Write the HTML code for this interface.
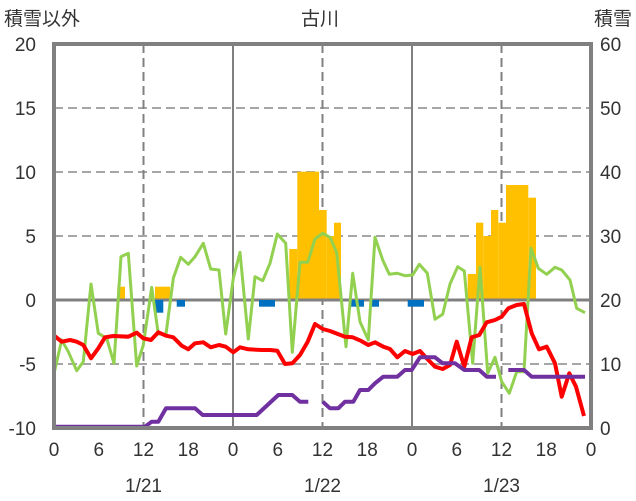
<!DOCTYPE html>
<html><head><meta charset="utf-8"><style>
html,body{margin:0;padding:0;background:#fff;}
svg{display:block;}
text{font-family:"Liberation Sans","Noto Sans CJK JP",sans-serif;fill:#333;}
</style></head><body>
<svg width="636" height="501" viewBox="0 0 636 501" xmlns="http://www.w3.org/2000/svg">
<rect width="636" height="501" fill="#fff"/>
<!-- grid -->
<g stroke="#a6a6a6" stroke-width="2" stroke-dasharray="9,5">
<line x1="54" y1="108" x2="591" y2="108"/>
<line x1="54" y1="172" x2="591" y2="172"/>
<line x1="54" y1="236" x2="591" y2="236"/>
<line x1="54" y1="364" x2="591" y2="364"/>
</g>
<g stroke="#808080" stroke-width="2" stroke-dasharray="9,5">
<line x1="143.5" y1="44" x2="143.5" y2="428"/>
<line x1="322.5" y1="44" x2="322.5" y2="428"/>
<line x1="501.5" y1="44" x2="501.5" y2="428"/>
</g>
<g stroke="#808080" stroke-width="2">
<line x1="233" y1="44" x2="233" y2="428"/>
<line x1="412" y1="44" x2="412" y2="428"/>
</g>
<!-- orange bars -->
<g fill="#ffc000">
<rect x="117.3" y="286.7" width="7.7" height="13.3"/>
<rect x="155" y="286.7" width="15" height="13.3"/>
<rect x="289.3" y="249" width="8" height="51"/>
<rect x="297.3" y="171.7" width="21.7" height="128.3"/>
<rect x="319" y="210" width="7.7" height="90"/>
<rect x="326.7" y="236" width="7.3" height="64"/>
<rect x="334" y="222.7" width="7" height="77.3"/>
<rect x="467.7" y="274" width="8.3" height="26"/>
<rect x="476" y="222.7" width="7.3" height="77.3"/>
<rect x="483.3" y="236" width="7.7" height="64"/>
<rect x="491" y="210" width="7.3" height="90"/>
<rect x="498.3" y="222.7" width="7.7" height="77.3"/>
<rect x="506" y="185" width="22.3" height="115"/>
<rect x="528.3" y="197.7" width="7.7" height="102.3"/>
</g>
<line x1="54" y1="300" x2="591" y2="300" stroke="#808080" stroke-width="3"/>
<!-- blue bars -->
<g fill="#0070c0">
<rect x="155" y="300" width="8.3" height="12.7"/>
<rect x="176.7" y="300" width="8.3" height="6.7"/>
<rect x="259" y="300" width="16" height="6.7"/>
<rect x="350" y="300" width="14" height="6.7"/>
<rect x="371.7" y="300" width="7.3" height="6.7"/>
<rect x="407.7" y="300" width="16.3" height="6.7"/>
</g>
<!-- green -->
<polyline fill="none" stroke="#92d050" stroke-width="3" stroke-linejoin="round" points="53.3,376.7 61.7,340 68.3,351.7 76.7,370.7 83.3,361.7 91,284 98.3,333.3 106.7,338.3 114,363.3 121,256.7 128.3,253.3 136.7,366 143.3,345 151.7,287.3 158.3,334 166,334 173.3,278.3 180.7,257.3 188.3,264.3 195,256.7 203.3,243.3 210.7,269 219,270 225.7,334 233.3,278.3 240,252.3 248.3,339 255,276.7 262.7,280.7 270,263.3 277.3,234 285.7,243.3 292.3,352.3 300,262.3 307.7,262.3 315,239 322.7,233.3 330,237.3 336.7,252.7 346,346.7 352.7,273.3 360,321.7 368.3,340 375,237.3 382.7,260 389.3,274.3 397.3,273.3 405,275.7 412.7,275 419.3,264.3 427.3,273.3 435,319.3 442.7,314.3 450,284 457.7,266.7 464.3,271 472.7,363.3 480,267.3 487.7,373.3 495,357.3 501.7,381.7 509.3,393.3 516.7,371.7 524,371.7 531,248.3 538.3,268.3 546.7,274.3 555,267.3 561.7,270 570,280 576.7,308.3 585,312.7"/>
<!-- red -->
<polyline fill="none" stroke="#ff0000" stroke-width="4" stroke-linejoin="round" points="53.3,335 61.7,341.7 70,340 76.7,341.7 83.3,345 91,358.3 98.3,348.3 105,337.3 113.3,336 128.3,336.7 136.7,332.7 143.3,338.3 151,340 158.3,332.3 166,335.7 173.3,337.3 181.7,345.7 188.3,349.3 195,343.3 203.3,342.3 210.7,347.3 219,345 225.7,346.7 233.3,352.3 240,347.3 248.3,349.3 261.7,350 270,350 277.3,350.7 285,364 292.3,363.3 300,355 307.7,341.7 315,324 322.7,329 330,331 345,336.7 352.7,337.3 360.7,340.7 368.3,345 375,342.3 383.3,346.7 390,349 397.3,357.3 405,351 412.7,354 420,351 427.3,359 435,366.7 442.7,369 450,365 456.7,341.7 464.3,366.7 471.7,337.3 479.3,335 486.7,322.3 495,320 501.7,316.7 508.3,308.3 516.7,305 524,304 531.7,333.3 539,349.3 546.7,346.7 555,363.3 561.7,396.7 569.3,373.3 576,386.7 584,416"/>
<!-- purple -->
<g fill="none" stroke="#7030a0" stroke-width="4" stroke-linejoin="round">
<polyline points="53.3,426.7 145,426.7 151.7,421.7 158.3,421.7 166,408.3 195,408.3 202.7,415 256.7,415 278.3,395 292.3,395 300,401.7 308.3,401.7"/>
<polyline points="322.7,401.7 330,408.3 338.3,408.3 345,401.7 353.3,401.7 360,390 368.3,390 375,383.3 383.3,376.7 397.3,376.7 405,370 411.7,370 420,357.3 435,357.3 442.7,363.3 455,363.3 464.3,370 479.3,370 486.7,376.7 496,376.7"/>
<polyline points="508.3,370 524,370 531.7,376.7 585,376.7"/>
</g>
<!-- frame -->
<rect x="54" y="44" width="537" height="384" fill="none" stroke="#808080" stroke-width="4"/>
<!-- labels -->
<g font-size="19" text-anchor="end">
<text x="36" y="51">20</text><text x="36" y="115">15</text><text x="36" y="179">10</text>
<text x="36" y="243">5</text><text x="36" y="307">0</text><text x="36" y="371">-5</text><text x="36" y="435">-10</text>
</g>
<g font-size="19" text-anchor="start">
<text x="600" y="51">60</text><text x="600" y="115">50</text><text x="600" y="179">40</text>
<text x="600" y="243">30</text><text x="600" y="307">20</text><text x="600" y="371">10</text><text x="600" y="435">0</text>
</g>
<g font-size="19" text-anchor="middle">
<text x="54" y="456">0</text><text x="98.75" y="456">6</text><text x="143.5" y="456">12</text><text x="188.25" y="456">18</text>
<text x="233" y="456">0</text><text x="277.75" y="456">6</text><text x="322.5" y="456">12</text><text x="367.25" y="456">18</text>
<text x="412" y="456">0</text><text x="456.75" y="456">6</text><text x="501.5" y="456">12</text><text x="546.25" y="456">18</text>
<text x="591" y="456">0</text>
<text x="143.5" y="492">1/21</text><text x="322.5" y="492">1/22</text><text x="501.5" y="492">1/23</text>
<text x="320" y="25">古川</text>
</g>
<text x="4" y="25" font-size="19">積雪以外</text>
<text x="632" y="25" font-size="19" text-anchor="end">積雪</text>
</svg>
</body></html>
